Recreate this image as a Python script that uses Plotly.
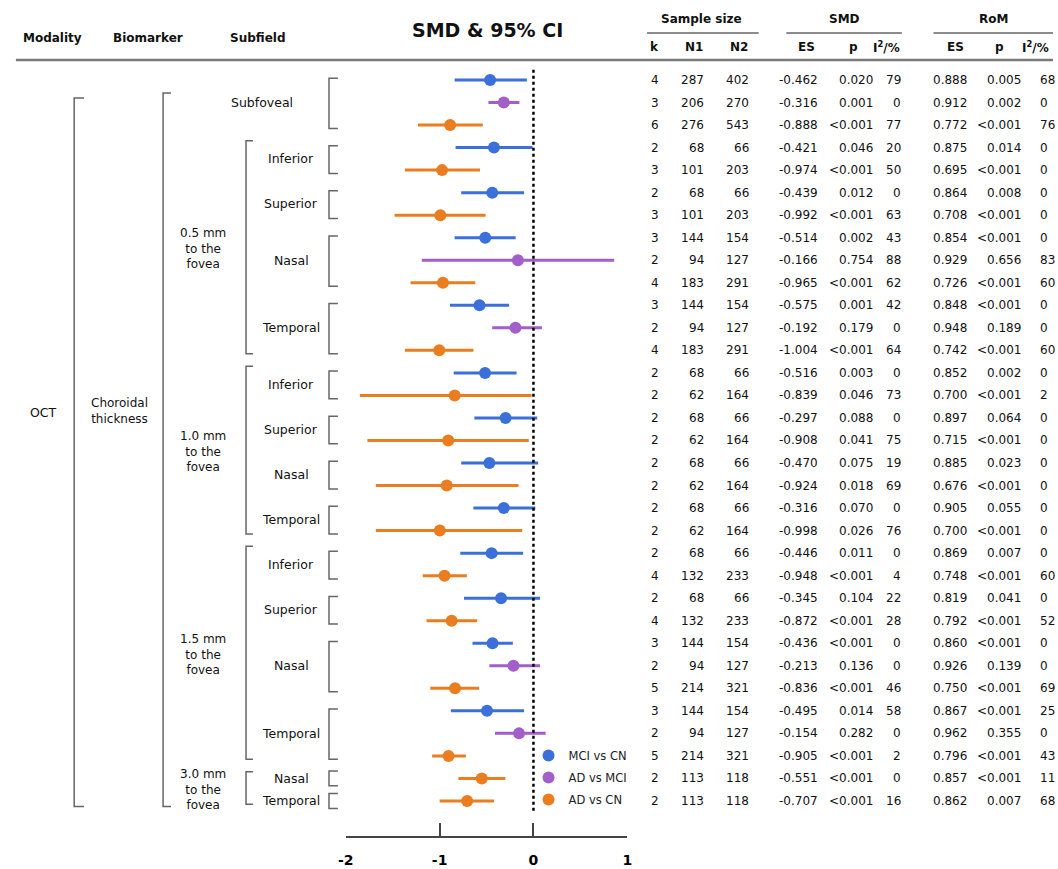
import plotly.graph_objects as go

# ---------------- data ----------------
comparison = [
    "MCI vs CN", "AD vs MCI", "AD vs CN",
    "MCI vs CN", "AD vs CN",
    "MCI vs CN", "AD vs CN",
    "MCI vs CN", "AD vs MCI", "AD vs CN",
    "MCI vs CN", "AD vs MCI", "AD vs CN",
    "MCI vs CN", "AD vs CN",
    "MCI vs CN", "AD vs CN",
    "MCI vs CN", "AD vs CN",
    "MCI vs CN", "AD vs CN",
    "MCI vs CN", "AD vs CN",
    "MCI vs CN", "AD vs CN",
    "MCI vs CN", "AD vs MCI", "AD vs CN",
    "MCI vs CN", "AD vs MCI", "AD vs CN",
    "AD vs CN", "AD vs CN",
]
k_studies = [4, 3, 6, 2, 3, 2, 3, 3, 2, 4, 3, 2, 4, 2, 2, 2, 2, 2, 2, 2, 2, 2, 4, 2, 4, 3, 2, 5, 3, 2, 5, 2, 2]
n1 = [287, 206, 276, 68, 101, 68, 101, 144, 94, 183, 144, 94, 183, 68, 62, 68, 62, 68, 62, 68, 62,
      68, 132, 68, 132, 144, 94, 214, 144, 94, 214, 113, 113]
n2 = [402, 270, 543, 66, 203, 66, 203, 154, 127, 291, 154, 127, 291, 66, 164, 66, 164, 66, 164, 66, 164,
      66, 233, 66, 233, 154, 127, 321, 154, 127, 321, 118, 118]
smd_es = [-0.462, -0.316, -0.888, -0.421, -0.974, -0.439, -0.992, -0.514, -0.166, -0.965, -0.575, -0.192,
          -1.004, -0.516, -0.839, -0.297, -0.908, -0.470, -0.924, -0.316, -0.998, -0.446, -0.948, -0.345,
          -0.872, -0.436, -0.213, -0.836, -0.495, -0.154, -0.905, -0.551, -0.707]
smd_lo = [-0.84, -0.48, -1.23, -0.83, -1.37, -0.77, -1.48, -0.84, -1.19, -1.31, -0.89, -0.44, -1.37,
          -0.85, -1.85, -0.63, -1.77, -0.77, -1.68, -0.64, -1.68, -0.78, -1.18, -0.74, -1.14, -0.65,
          -0.47, -1.10, -0.88, -0.41, -1.08, -0.80, -1.00]
smd_hi = [-0.07, -0.15, -0.54, -0.01, -0.57, -0.10, -0.51, -0.19, 0.86, -0.62, -0.26, 0.09, -0.64,
          -0.18, -0.02, 0.04, -0.05, 0.05, -0.16, 0.02, -0.12, -0.11, -0.71, 0.07, -0.60, -0.22,
          0.07, -0.58, -0.10, 0.13, -0.72, -0.30, -0.42]
smd_p = ["0.020", "0.001", "<0.001", "0.046", "<0.001", "0.012", "<0.001", "0.002", "0.754", "<0.001",
         "0.001", "0.179", "<0.001", "0.003", "0.046", "0.088", "0.041", "0.075", "0.018", "0.070",
         "0.026", "0.011", "<0.001", "0.104", "<0.001", "<0.001", "0.136", "<0.001", "0.014", "0.282",
         "<0.001", "<0.001", "<0.001"]
smd_i2 = [79, 0, 77, 20, 50, 0, 63, 43, 88, 62, 42, 0, 64, 0, 73, 0, 75, 19, 69, 0, 76, 0, 4, 22, 28,
          0, 0, 46, 58, 0, 2, 0, 16]
rom_es = [0.888, 0.912, 0.772, 0.875, 0.695, 0.864, 0.708, 0.854, 0.929, 0.726, 0.848, 0.948, 0.742,
          0.852, 0.700, 0.897, 0.715, 0.885, 0.676, 0.905, 0.700, 0.869, 0.748, 0.819, 0.792, 0.860,
          0.926, 0.750, 0.867, 0.962, 0.796, 0.857, 0.862]
rom_p = ["0.005", "0.002", "<0.001", "0.014", "<0.001", "0.008", "<0.001", "<0.001", "0.656", "<0.001",
         "<0.001", "0.189", "<0.001", "0.002", "<0.001", "0.064", "<0.001", "0.023", "<0.001", "0.055",
         "<0.001", "0.007", "<0.001", "0.041", "<0.001", "<0.001", "0.139", "<0.001", "<0.001", "0.355",
         "<0.001", "<0.001", "0.007"]
rom_i2 = [68, 0, 76, 0, 0, 0, 0, 0, 83, 60, 0, 0, 60, 0, 2, 0, 0, 0, 0, 0, 0, 0, 60, 0, 52, 0, 0, 69,
          25, 0, 43, 11, 68]

subfields = ["Subfoveal", "Inferior", "Superior", "Nasal", "Temporal", "Inferior", "Superior", "Nasal",
             "Temporal", "Inferior", "Superior", "Nasal", "Temporal", "Nasal", "Temporal"]
subfield_rows = [3, 2, 2, 3, 3, 2, 2, 2, 2, 2, 2, 3, 3, 1, 1]
regions = ["0.5 mm<br>to the<br>fovea", "1.0 mm<br>to the<br>fovea", "1.5 mm<br>to the<br>fovea",
           "3.0 mm<br>to the<br>fovea"]
region_subfields = [4, 4, 4, 2]  # subfields per region, after Subfoveal
modality = "OCT"
biomarker = "Choroidal<br>thickness"

series_names = ["MCI vs CN", "AD vs MCI", "AD vs CN"]
series_colors = ["#3b6fd9", "#a35fc9", "#ea7d1f"]
x_ticks = [-2, -1, 0, 1]
x_ticklabels = ["-2", "-1", "0", "1"]

# ---------------- layout constants ----------------
W, H = 1058, 869
ROW0_PX, ROW_STEP, AXIS_PX = 80.0, 22.53, 836.0
FONT = "DejaVu Sans"
GRAY = "#666666"


def px(x):
    return x / W


def py(y):
    return 1 - y / H


rows = list(range(1, len(smd_es) + 1))
y_top = 1 - ROW0_PX / ROW_STEP
y_bot = 1 + (AXIS_PX - ROW0_PX) / ROW_STEP

fig = go.Figure()

for name, col in zip(series_names, series_colors):
    idx = [i for i, c in enumerate(comparison) if c == name]
    fig.add_trace(go.Scatter(
        x=[smd_es[i] for i in idx],
        y=[rows[i] for i in idx],
        mode="markers",
        name=name,
        legendgroup=name,
        marker=dict(color=col, size=12),
        error_x=dict(type="data", symmetric=False,
                     array=[smd_hi[i] - smd_es[i] for i in idx],
                     arrayminus=[smd_es[i] - smd_lo[i] for i in idx],
                     color=col, thickness=3, width=0),
    ))

annotations = []
shapes = []


def text(x, y, s, size=12, bold=False, xanchor="center", yref="y", color="#111"):
    annotations.append(dict(
        x=x, y=y, xref="paper", yref=yref, text=s, showarrow=False,
        xanchor=xanchor, yanchor="middle",
        font=dict(family=FONT, size=size, color=color, weight="bold" if bold else "normal"),
    ))


def hline(x0, x1, y, width=1.5, color=GRAY):
    shapes.append(dict(type="line", xref="paper", yref="paper", x0=px(x0), x1=px(x1),
                       y0=py(y), y1=py(y), line=dict(color=color, width=width)))


def bracket(xp, tick, r0, r1):
    path = (f"M {px(xp + tick)},{r0} L {px(xp)},{r0} L {px(xp)},{r1} L {px(xp + tick)},{r1}")
    shapes.append(dict(type="path", xref="paper", yref="y", path=path,
                       line=dict(color=GRAY, width=1.5)))


# headers
text(px(45), py(38), "Modality", 12, True, yref="paper")
text(px(142), py(38), "Biomarker", 12, True, yref="paper")
text(px(253), py(38), "Subfield", 12, True, yref="paper")
text(px(485), py(30), "SMD & 95% CI", 19, True, yref="paper")
text(px(702), py(19), "Sample size", 12, True, yref="paper")
text(px(847), py(19), "SMD", 12, True, yref="paper")
text(px(998), py(19), "RoM", 12, True, yref="paper")
hline(647, 760, 33)
hline(788, 905, 33)
hline(937, 1058, 33)
for xc, s in [(655, "k"), (695, "N1"), (740, "N2"), (808, "ES"), (856, "p"), (889, "I<sup>2</sup>/%"),
              (959, "ES"), (1004, "p")]:
    text(px(xc), py(47), s, 12, True, yref="paper")
text(px(1025), py(47), "I<sup>2</sup>/%", 12, True, xanchor="left", yref="paper")
hline(8, 1058, 60, width=2.5, color="#7a7a7a")

# table
for i, r in enumerate(rows):
    text(px(655), r, str(k_studies[i]))
    text(px(707), r, str(n1[i]), xanchor="right")
    text(px(752), r, str(n2[i]), xanchor="right")
    text(px(822), r, f"{smd_es[i]:.3f}", xanchor="right")
    text(px(878), r, smd_p[i], xanchor="right")
    text(px(906), r, str(smd_i2[i]), xanchor="right")
    text(px(973), r, f"{rom_es[i]:.3f}", xanchor="right")
    text(px(1028), r, rom_p[i], xanchor="right")
    text(px(1043), r, str(rom_i2[i]), xanchor="left")

# subfield labels and brackets
starts = []
r = 1
for n in subfield_rows:
    starts.append(r)
    r += n
for j, (lab, s0, n) in enumerate(zip(subfields, starts, subfield_rows)):
    last = s0 + n - 1
    text(px(257 if j == 0 else 287), (s0 + last) / 2, lab, 12.5)
    if n == 1:
        bracket(325, 9, s0 - 0.33, last + 0.33)
    else:
        bracket(325, 9, s0 - 0.08, last + 0.15)

# regions
sf = 1
for reg, nsf in zip(regions, region_subfields):
    first = starts[sf]
    last = starts[sf + nsf - 1] + subfield_rows[sf + nsf - 1] - 1
    text(px(197), (first + last) / 2, reg, 12)
    bracket(241, 7, first - 0.3, last + 0.15)
    sf += nsf

# biomarker / modality
text(px(113), 15.7, biomarker, 12)
text(px(36), 15.75, modality, 12.5)
bracket(157, 8, 1.58, 33.25)
bracket(67, 10, 1.8, 33.25)

# zero reference line
shapes.append(dict(type="line", xref="x", yref="y", x0=0, x1=0, y0=0.55, y1=33.5, layer="above",
                   line=dict(color="black", width=2.5, dash="dot")))

fig.update_layout(
    width=W, height=H,
    margin=dict(l=0, r=0, t=0, b=0),
    paper_bgcolor="white", plot_bgcolor="white",
    annotations=annotations, shapes=shapes,
    showlegend=True,
    legend=dict(x=px(527), y=py(741), xanchor="left", yanchor="top",
                font=dict(family=FONT, size=11.5, color="#222"),
                bgcolor="rgba(0,0,0,0)", tracegroupgap=3, itemclick=False),
    xaxis=dict(domain=[px(342), px(627)], range=[-2, 1], showline=True, linecolor="#444",
               linewidth=1.5, ticks="inside", ticklen=13, tickwidth=1.5, tickcolor="#444",
               tickmode="array", tickvals=x_ticks, ticktext=x_ticklabels,
               tickfont=dict(family=FONT, size=14, color="black", weight="bold"),
               ticklabelstandoff=10, showgrid=False, zeroline=False, fixedrange=True),
    yaxis=dict(domain=[(H - AXIS_PX) / H, 1], range=[y_bot, y_top], visible=False,
               showgrid=False, zeroline=False, fixedrange=True),
)

fig.write_html("out.html", config={"displayModeBar": False},
               post_script="document.body.style.margin='0';document.body.style.overflow='hidden';")
